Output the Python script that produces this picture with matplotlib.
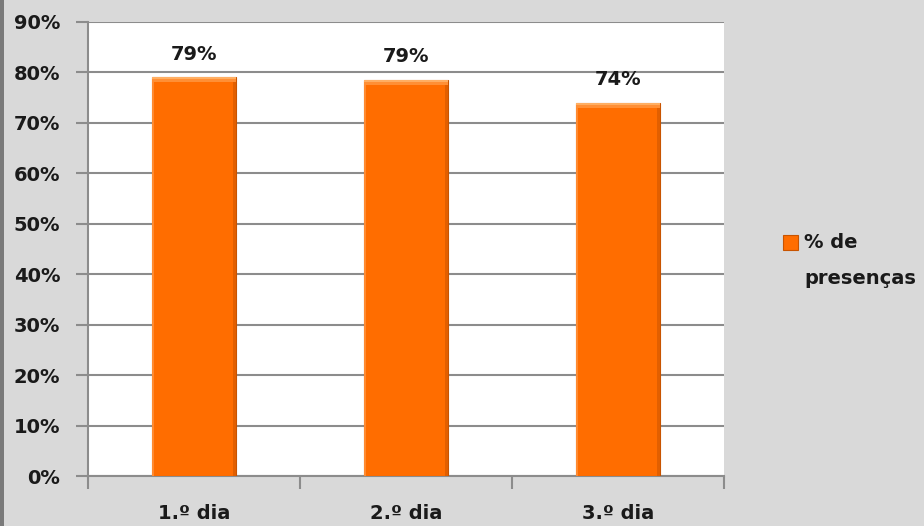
import matplotlib

matplotlib.use("Agg")
import matplotlib.pyplot as plt  # noqa: E402
from matplotlib.patches import Rectangle  # noqa: E402

categories = ["1.º dia", "2.º dia", "3.º dia"]
presencas = [0.79, 0.786, 0.74]
value_labels = ["79%", "79%", "74%"]
yticks = [0.0, 0.1, 0.2, 0.3, 0.4, 0.5, 0.6, 0.7, 0.8, 0.9]
legend_lines = ["% de", "presenças"]

BG = "#d9d9d9"
ORANGE = "#ff6d00"
GRID = "#8c8c8c"
TXT = "#1a1a1a"

plt.rcParams["font.family"] = ["DejaVu Sans"]

W, H = 924, 526
fig = plt.figure(figsize=(W / 100, H / 100), dpi=100, facecolor=BG)
ax = fig.add_axes([88 / W, 50 / H, 636 / W, 454 / H])
ax.set_facecolor("white")

x = list(range(len(categories)))
bars = ax.bar(x, presencas, width=0.4, color=ORANGE, edgecolor="#c85400",
              linewidth=0.8, zorder=3)

# rough bevel like the Excel bars: light top and left, darker right side
px_x = 3.0 / 636
px_y = 0.9 / 454
for b in bars:
    x0, w, h = b.get_x(), b.get_width(), b.get_height()
    ax.add_patch(Rectangle((x0, 0), 2 * px_x, h, color="#ff8a30", lw=0, zorder=4))
    ax.add_patch(Rectangle((x0 + w - 3 * px_x, 0), 3 * px_x, h, color="#e25f00",
                           lw=0, zorder=4))
    ax.add_patch(Rectangle((x0, h - 5 * px_y), w, 5 * px_y, color="#ff8f35",
                           lw=0, zorder=5))
    ax.add_patch(Rectangle((x0, h - 2 * px_y), w, 2 * px_y, color="#ffae62",
                           lw=0, zorder=5))

for xi, v, lab in zip(x, presencas, value_labels):
    ax.text(xi, v + 0.046, lab, ha="center", va="center", fontsize=14,
            fontweight="bold", color=TXT, zorder=6)

ax.set_xlim(-0.5, len(categories) - 0.5)
ax.set_ylim(0, 0.9)
ax.set_yticks(yticks)
ax.set_yticklabels([f"{int(round(t * 100))}%" for t in yticks])
ax.yaxis.grid(True, color=GRID, lw=1.5, zorder=0)
ax.set_axisbelow(True)

ax.set_xticks(x)
ax.set_xticklabels(categories)
ax.set_xticks([i - 0.5 for i in range(len(categories) + 1)], minor=True)
ax.tick_params(axis="x", which="major", length=0, pad=27)
ax.tick_params(axis="x", which="minor", length=9, width=1.5, color=GRID)
ax.tick_params(axis="y", length=9, width=1.5, color=GRID, pad=11)
for lbl in ax.get_xticklabels() + ax.get_yticklabels():
    lbl.set_fontsize(14)
    lbl.set_fontweight("bold")
    lbl.set_color(TXT)
for lbl in ax.get_xticklabels():
    lbl.set_verticalalignment("center")

for side in ("top", "right"):
    ax.spines[side].set_visible(False)
for side in ("left", "bottom"):
    ax.spines[side].set_color(GRID)
    ax.spines[side].set_linewidth(1.5)

# legend drawn in figure coords
fig.patches.append(Rectangle((783 / W, 1 - 250 / H), 15 / W, 15 / H,
                             transform=fig.transFigure, facecolor=ORANGE,
                             edgecolor="#c85400", lw=0.8))
for i, line in enumerate(legend_lines):
    fig.text(804 / W, 1 - (243 + 35 * i) / H, line, ha="left", va="center",
             fontsize=14, fontweight="bold", color=TXT)

# dark left border of the chart frame
fig.patches.append(Rectangle((0, 0), 4 / W, 1, transform=fig.transFigure,
                             facecolor="#7a7a7a", lw=0))

fig.savefig("out.png", dpi=100, facecolor=BG)
